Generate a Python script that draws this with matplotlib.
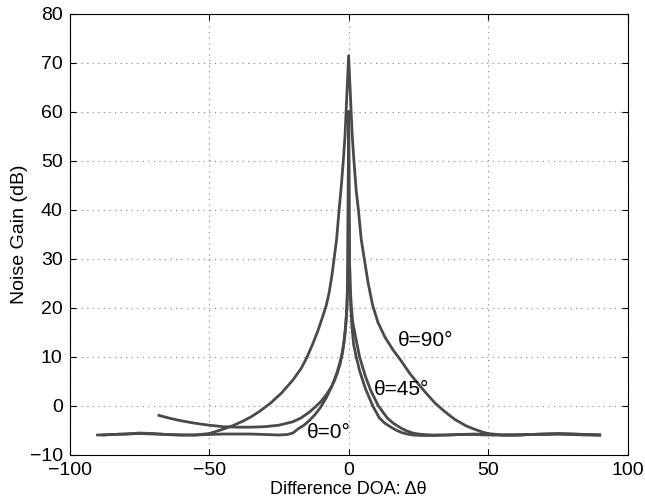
import matplotlib
matplotlib.use("Agg")
import matplotlib.pyplot as plt

plt.rcParams['font.family'] = ['Liberation Sans', 'DejaVu Sans']

# theta = 0 deg
x_t0 = [-90, -85, -80, -75, -70, -65, -60, -55, -50, -45, -40, -35, -30, -25, -22, -20, -18, -16, -14, -12, -10, -8, -6, -4.5, -3.5, -2.5, -1.8, -1.2, -0.8, -0.5, -0.3, -0.15, 0,
        0.15, 0.3, 0.5, 0.8, 1.2, 1.8, 2.7, 4, 6, 8.6, 11, 13, 15.2, 17, 19, 21, 23, 26, 30, 35, 40, 45, 50, 55, 60, 65, 70, 75, 80, 85, 90]
y_t0 = [-6.0, -5.9, -5.8, -5.7, -5.8, -5.9, -6.0, -6.0, -5.9, -5.8, -5.8, -5.8, -5.9, -6.0, -5.9, -5.6, -4.7, -4.0, -3.0, -1.8, -0.3, 1.6, 4.0, 6.2, 8.0, 10.2, 12.5, 15.5, 18.5, 22, 28, 40, 60,
        40, 30, 24, 20, 16, 12.5, 10, 7, 3.5, 0, -2.5, -3.6, -4.4, -5.0, -5.5, -5.8, -6.0, -6.1, -6.1, -6.0, -5.9, -5.9, -6.0, -6.0, -6.0, -5.9, -5.8, -5.7, -5.8, -5.9, -6.0]

# theta = 45 deg
x_t45 = [-68, -64, -60, -55, -50, -45, -40, -35, -30, -25, -20, -17, -14, -12, -10, -8, -6, -5, -4, -3, -2.2, -1.5, -1.0, -0.6, -0.3, 0,
         0.3, 0.6, 1.0, 1.5, 2.5, 3.9, 6, 8, 10.6, 12.5, 14, 16, 18.8, 21, 23, 25, 27, 30, 35, 40, 45, 50, 55, 60, 65, 70, 75, 80, 85, 90]
y_t45 = [-2.0, -2.6, -3.1, -3.6, -4.0, -4.3, -4.4, -4.4, -4.3, -4.0, -3.3, -2.5, -1.3, -0.3, 0.8, 2.2, 4.0, 5.2, 6.7, 8.6, 10.8, 13.5, 16.5, 20, 27, 60,
         30, 24, 20, 17, 14, 10, 6, 3, 0, -1.5, -2.6, -3.6, -4.6, -5.2, -5.6, -5.8, -5.9, -6.0, -6.0, -5.9, -5.8, -5.9, -6.0, -6.0, -5.9, -5.8, -5.8, -5.9, -6.0, -6.0]

# theta = 90 deg
x_t90 = [-88, -85, -80, -75, -70, -65, -60, -55, -50, -46, -42, -38, -35, -32, -28, -24, -20, -17, -15, -13, -11, -9.5, -8, -7, -6, -5.2, -4.3, -3.4, -2.6, -1.9, -1.3, -0.9, 0,
         0.9, 1.3, 1.9, 2.7, 3.5, 4.5, 5.6, 7, 8.6, 10.5, 13, 16, 19, 22, 25, 28, 31, 34, 38, 42, 45, 48, 50, 55, 60, 65, 70, 75, 80, 85, 90]
y_t90 = [-6.0, -5.9, -5.8, -5.6, -5.7, -5.9, -6.0, -6.0, -5.7, -5.0, -4.2, -3.2, -2.3, -1.2, 0.5, 2.6, 5.2, 7.6, 9.8, 12.4, 15.3, 17.8, 20.5, 23, 26.5, 30, 34, 40, 45, 50, 55, 60, 71.4,
         60, 55, 50, 44, 40, 34, 30, 25, 20.5, 17, 14, 11.3, 9, 6.5, 4.4, 2.4, 0.5, -1, -2.8, -4.1, -4.8, -5.4, -5.7, -6.0, -6.0, -5.9, -5.9, -5.8, -5.8, -5.9, -6.0]

labels = ['θ=0°', 'θ=45°', 'θ=90°']
label_x = [-15, 9, 17.5]
label_y = [-5.4, 3.2, 13.2]

fig = plt.figure(figsize=(6.45, 5.04), dpi=100)
ax = fig.add_axes([0.108, 0.098, 0.865, 0.875])

col = '#4a4a4a'
for xs, ys in [(x_t0, y_t0), (x_t45, y_t45), (x_t90, y_t90)]:
    ax.plot(xs, ys, color=col, lw=2.0, solid_joinstyle='round')

for t, lx, ly in zip(labels, label_x, label_y):
    ax.text(lx, ly, t, fontsize=15, va='center', ha='left', color='black')

ax.set_xlim(-100, 100)
ax.set_ylim(-10, 80)
ax.set_xticks([-100, -50, 0, 50, 100])
ax.set_yticks(range(-10, 81, 10))
ax.grid(True, linestyle=(0, (1, 4)), color='#808080', lw=0.8)
ax.tick_params(direction='in', length=4, labelsize=14, top=True, right=True, width=0.8, pad=5)
for s in ax.spines.values():
    s.set_linewidth(0.8)
ax.set_xlabel('Difference DOA: Δθ', fontsize=13, labelpad=2)
ax.set_ylabel('Noise Gain (dB)', fontsize=14, labelpad=1)

fig.savefig('out.png', dpi=100)
